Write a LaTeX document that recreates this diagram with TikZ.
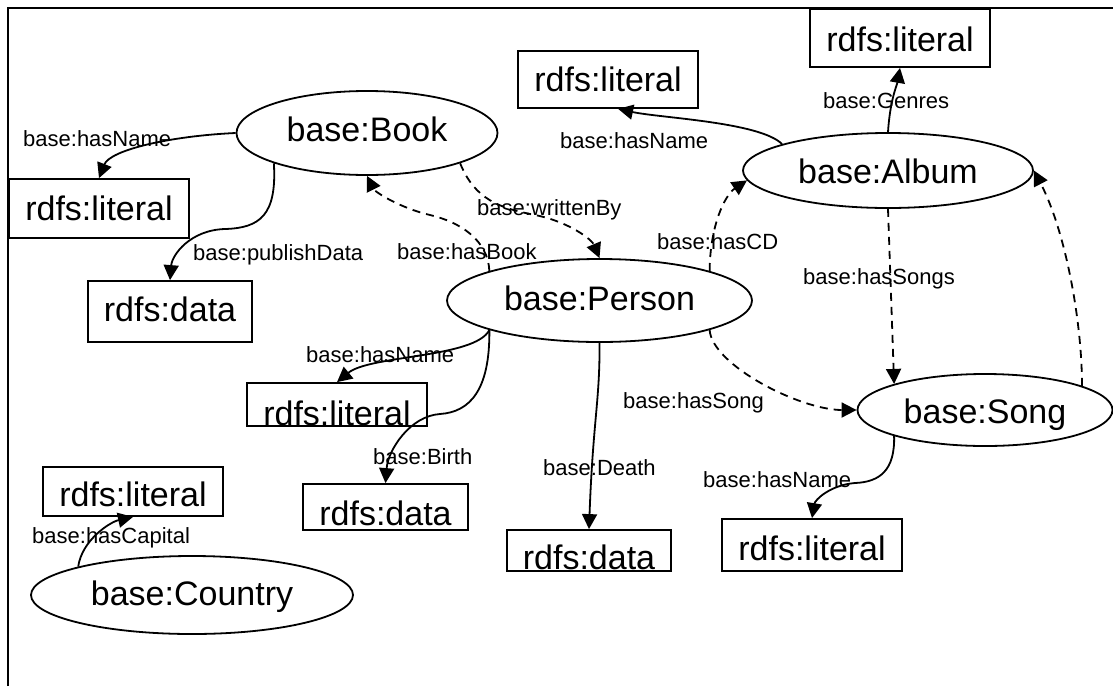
\documentclass[tikz,border=0pt]{standalone}
\usepackage{fontspec}
\setmainfont{Liberation Sans}
\usepackage{tikz}
\usetikzlibrary{shapes.geometric, arrows.meta}
\newcommand{\clsfont}{\fontsize{34}{40}\selectfont}
\newcommand{\propfont}{\fontsize{22}{26}\selectfont}

\begin{document}
\begin{tikzpicture}[
  x=1pt, y=-1pt,
  cls/.style={ellipse, draw, line width=1.8pt, inner sep=0pt, font=\clsfont,
              text depth=0pt, text height=20pt},
  lit/.style={rectangle, draw, line width=1.8pt, inner sep=0pt, font=\clsfont,
              text depth=0pt, text height=24pt},
  prop/.style={inner sep=0pt, font=\propfont, anchor=base west},
  rel/.style={-{Triangle[length=15pt, width=15pt]}, line width=1.8pt},
  relx/.style={rel, dash pattern=on 8pt off 6pt},
]
  \useasboundingbox (0,0) rectangle (1113,686);
  \draw[line width=2pt] (8,686) -- (8,8) -- (1113,8);

  % classes
  \node[cls, minimum width=261pt, minimum height=84pt, text height=17pt] at (367,133) (book) {base:Book};
  \node[cls, minimum width=305pt, minimum height=83pt, text height=19pt] at (599.5,300.5) (person) {base:Person};
  \node[cls, minimum width=290pt, minimum height=75pt, text height=26pt] at (888,170.5) (album) {base:Album};
  \node[cls, minimum width=255pt, minimum height=72pt, text height=27pt] at (985,410) (song) {base:Song};
  \node[cls, minimum width=322pt, minimum height=78pt] at (192,595) (country) {base:Country};

  % literals and data
  \node[lit, minimum width=180pt, minimum height=59pt] at (99,208.5) (litBook) {rdfs:literal};
  \node[lit, minimum width=164pt, minimum height=61pt, text height=20pt] at (170,311.5) (dataBook) {rdfs:data};
  \node[lit, minimum width=180pt, minimum height=57pt] at (608,79.5) (litAlbum) {rdfs:literal};
  \node[lit, minimum width=180pt, minimum height=58pt, text height=27pt] at (900,38) (litGenre) {rdfs:literal};
  \node[lit, minimum width=180pt, minimum height=43pt, text height=41pt] at (337,404.5) (litPerson) {rdfs:literal};
  \node[lit, minimum width=165pt, minimum height=46pt, text height=36pt] at (385.5,507) (dataBirth) {rdfs:data};
  \node[lit, minimum width=164pt, minimum height=41pt, text height=37pt] at (589,550.5) (dataDeath) {rdfs:data};
  \node[lit, minimum width=180pt, minimum height=52pt, text height=30pt] at (812,545) (litSong) {rdfs:literal};
  \node[lit, minimum width=180pt, minimum height=49pt, text height=30pt] at (133,491.5) (litCountry) {rdfs:literal};

  % property labels
  \node[prop] at (23,146) (pBookName) {base:hasName};
  \node[prop] at (193,260) (pPublish) {base:publishData};
  \node[prop] at (477,215) (pWritten) {base:writtenBy};
  \node[prop] at (397,259) (pHasBook) {base:hasBook};
  \node[prop] at (657,249) (pHasCD) {base:hasCD};
  \node[prop] at (560,148) (pAlbumName) {base:hasName};
  \node[prop] at (823,108) (pGenres) {base:Genres};
  \node[prop] at (803,284) (pHasSongs) {base:hasSongs};
  \node[prop] at (623,408) (pHasSong) {base:hasSong};
  \node[prop] at (543,475) (pDeath) {base:Death};
  \node[prop] at (373,464) (pBirth) {base:Birth};
  \node[prop] at (306,362) (pPersonName) {base:hasName};
  \node[prop] at (703,487) (pSongName) {base:hasName};
  \node[prop] at (32,543) (pCapital) {base:hasCapital};

  % object properties (solid)
  \draw[rel] (book.west) .. controls (170,136) and (110,150) .. (litBook.north);
  \draw[rel] (book.198) .. controls (277,215) and (260,228) .. (225,229)
                        .. controls (190,230) and (172,255) .. (dataBook.north);
  \draw[rel] (album.166) .. controls (760,122) and (660,118) .. (litAlbum.-71);
  \draw[rel] (album.north) .. controls (890,100) and (897,85) .. (litGenre.south);
  \draw[rel] (person.195) .. controls (475,358) and (370,355) .. (litPerson.north);
  \draw[rel] (person.195) .. controls (490,390) and (470,412) .. (440,414)
                          .. controls (410,416) and (388,450) .. (dataBirth.north);
  \draw[rel] (person.south) .. controls (600,400) and (593,420) .. (dataDeath.north);
  \draw[rel] (song.196) .. controls (895,470) and (880,482) .. (855,483)
                        .. controls (830,485) and (815,500) .. (litSong.north);
  \draw[rel] (country.166) .. controls (82,540) and (110,522) .. (litCountry.south);

  % links between classes (dashed)
  \draw[relx] (book.-18) .. controls (475,200) and (500,208) .. (535,215)
                         .. controls (570,222) and (592,240) .. (person.north);
  \draw[relx] (person.165) .. controls (488,240) and (460,222) .. (430,215)
                           .. controls (400,208) and (375,192) .. (book.south);
  \draw[relx] (person.15) .. controls (710,225) and (725,195) .. (album.184);
  \draw[relx] (person.-15) .. controls (712,365) and (800,410) .. (song.west);
  \draw[relx] (album.south) -- (song.164);
  \draw[relx] (song.14) .. controls (1082,320) and (1065,230) .. (album.east);
\end{tikzpicture}
\end{document}
